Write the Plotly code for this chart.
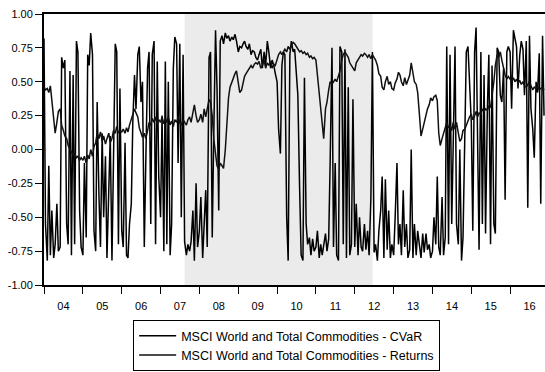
import pandas as pd
import plotly.graph_objects as go

# semi-monthly observations starting January 2004
start_date = "2004-01-01"

cvar = [
    # 2004
    0.82, -0.55, -0.82, -0.12, -0.78, -0.45, -0.8, -0.7, -0.4, -0.75, -0.72, 0.68,
    0.6, 0.66, -0.55, -0.7, 0.58, -0.78, 0.55, -0.7, 0.8, 0.72, -0.45, -0.72,
    # 2005
    -0.78, -0.1, -0.65, 0.7, 0.62, 0.86, 0.7, -0.6, -0.75, 0.35, -0.35, -0.72,
    0.12, -0.5, -0.05, -0.8, -0.3, 0.1, -0.82, -0.2, 0.78, 0.72, -0.7, 0.45,
    # 2006
    -0.6, -0.72, 0.05, -0.78, -0.8, -0.55, -0.4, 0.2, 0.55, 0.3, 0.7, 0.76,
    0.35, 0.5, -0.72, -0.1, 0.6, 0.72, -0.55, 0.7, 0.8, -0.7, 0.65, -0.2,
    # 2007
    -0.5, 0.25, -0.75, 0.65, -0.7, 0.5, -0.78, -0.55, 0.6, 0.83, 0.78, -0.1,
    0.78, -0.5, 0.7, -0.68, -0.78, -0.7, -0.75, -0.68, -0.45, -0.82, -0.25, -0.72,
    # 2008
    -0.6, -0.35, -0.8, -0.55, -0.3, -0.72, 0.68, 0.72, -0.65, 0.1, 0.88, 0.45,
    -0.45, 0.8, 0.84, 0.78, 0.86, 0.82, 0.84, 0.8, 0.83, 0.81, 0.85, 0.8,
    # 2009
    0.72, 0.76, 0.75, 0.78, 0.8, 0.76, 0.74, 0.78, 0.7, 0.73, 0.72, 0.68,
    0.66, 0.7, 0.74, 0.6, 0.72, 0.62, 0.8, 0.72, 0.6, 0.66, 0.62, 0.56,
    # 2010
    0.5, 0.15, -0.03, 0.62, 0.72, 0.7, -0.5, -0.82, 0.7, 0.8, 0.72, 0.74,
    0.55, 0.4, -0.3, -0.78, -0.82, 0.53, -0.55, -0.7, -0.65, -0.78, -0.66, -0.75,
    # 2011
    -0.72, -0.6, -0.8, -0.7, -0.78, -0.72, -0.62, -0.75, -0.66, -0.08, 0.75, -0.72,
    -0.1, -0.78, -0.82, 0.76, 0.72, -0.7, 0.74, -0.8, 0.46, -0.78, -0.7, 0.37,
    # 2012
    -0.72, -0.4, -0.78, -0.5, -0.72, -0.75, -0.55, -0.74, -0.6, -0.78, -0.35, 0.72,
    -0.76, -0.7, -0.82, -0.6, -0.45, -0.2, -0.8, -0.22, -0.74, -0.45, -0.8, -0.7,
    # 2013
    -0.78, -0.5, -0.1, -0.7, -0.55, -0.78, -0.3, -0.72, -0.55, -0.8, -0.74, 0.0,
    -0.8, -0.55, -0.78, -0.6, -0.72, -0.8, -0.62, -0.76, -0.62, -0.74, -0.7, -0.8,
    # 2014
    -0.75, -0.5, -0.7, -0.2, -0.72, -0.78, -0.35, -0.78, -0.65, 0.76, -0.7, 0.7,
    -0.55, 0.2, 0.76, -0.55, -0.7, 0.0, -0.82, -0.65, 0.05, 0.72, 0.76, 0.5,
    # 2015
    0.2, -0.6, 0.72, 0.9, 0.05, -0.74, 0.72, -0.55, 0.55, -0.62, 0.3, 0.7,
    -0.7, 0.62, -0.55, -0.62, 0.75, 0.72, 0.4, 0.35, 0.6, -0.37, 0.72, 0.76,
    # 2016
    0.72, 0.3, 0.88, 0.82, 0.76, 0.45, 0.7, 0.8, 0.74, 0.4, 0.8, -0.43,
    0.84, 0.3, 0.15, -0.06, 0.5, 0.42, 0.71, -0.4, 0.84, 0.25,
]

returns = [
    # 2004
    0.46, 0.44, 0.45, 0.42, 0.47, 0.36, 0.2, 0.12, 0.2, 0.28, 0.3, 0.18,
    0.14, 0.1, 0.08, 0.03, 0.0, -0.02, -0.04, -0.03, -0.06, -0.05, -0.08, -0.06,
    # 2005
    -0.08, -0.05, -0.1, -0.04, -0.07, 0.0, -0.05, 0.02, 0.05, 0.12, 0.08, 0.13,
    0.06, 0.1, 0.04, 0.08, 0.12, 0.05, 0.08, 0.14, 0.12, 0.17, 0.12, 0.14,
    # 2006
    0.13, 0.15, 0.12, 0.16, 0.13, 0.18, 0.22, 0.27, 0.3, 0.27, 0.24, 0.16,
    0.12, 0.09, 0.12, 0.08, 0.14, 0.2, 0.18, 0.23, 0.2, 0.24, 0.19, 0.22,
    # 2007
    0.2, 0.24, 0.19, 0.23, 0.2, 0.24, 0.18, 0.21, 0.17, 0.22, 0.2, 0.24,
    0.2, 0.18, 0.22, 0.2, 0.18, 0.22, 0.24, 0.2, 0.27, 0.33, 0.25, 0.2,
    # 2008
    0.22, 0.26, 0.2, 0.3, 0.24, 0.3, 0.37, 0.35, 0.25, 0.08, -0.05, -0.12,
    -0.15, -0.1, -0.12, -0.14, 0.0, 0.2, 0.38, 0.46, 0.5, 0.52, 0.56, 0.58,
    # 2009
    0.48, 0.42, 0.44, 0.5, 0.54, 0.56, 0.58, 0.6, 0.62, 0.6, 0.63, 0.64,
    0.63, 0.65, 0.6, 0.62, 0.66, 0.6, 0.64, 0.62, 0.65, 0.6, 0.63, 0.62,
    # 2010
    0.66, 0.7, 0.72, 0.7, 0.72, 0.74, 0.72, 0.76, 0.74, 0.77, 0.79, 0.78,
    0.76, 0.74, 0.72, 0.73, 0.71, 0.72, 0.7, 0.71, 0.68, 0.69, 0.67, 0.68,
    # 2011
    0.66, 0.55, 0.4, 0.32, 0.2, 0.08, 0.3, 0.35, 0.44, 0.5, 0.48, 0.5,
    0.52, 0.5, 0.55, 0.58, 0.66, 0.7, 0.72, 0.7, 0.68, 0.64, 0.62, 0.6,
    # 2012
    0.58, 0.64, 0.66, 0.68, 0.7, 0.69, 0.71, 0.7, 0.68, 0.7, 0.67, 0.7,
    0.68, 0.66, 0.62, 0.56, 0.54, 0.46, 0.44, 0.5, 0.54, 0.48, 0.5, 0.45,
    # 2013
    0.44, 0.49, 0.52, 0.57, 0.55, 0.5, 0.47, 0.53, 0.48, 0.52, 0.55, 0.64,
    0.55, 0.5, 0.48, 0.42, 0.25, 0.1, 0.15, 0.2, 0.27, 0.3, 0.33, 0.38,
    # 2014
    0.36, 0.39, 0.4, 0.36, 0.12, 0.03, 0.08, 0.12, 0.15, 0.2, 0.16, 0.18,
    0.14, 0.2, 0.15, 0.2, 0.12, 0.06, 0.08, 0.14, 0.15, 0.18, 0.22, 0.24,
    # 2015
    0.26, 0.22, 0.25, 0.28, 0.24, 0.27, 0.26, 0.3, 0.28, 0.3, 0.29, 0.32,
    0.31, 0.38, 0.5, 0.62, 0.7, 0.68, 0.72, 0.66, 0.6, 0.55, 0.52, 0.54,
    # 2016
    0.52, 0.5, 0.53, 0.5, 0.52, 0.49, 0.51, 0.48, 0.5, 0.47, 0.46, 0.48,
    0.5, 0.47, 0.44, 0.46, 0.45, 0.47, 0.44, 0.45, 0.46, 0.44,
]

y_tick_vals = [1.0, 0.75, 0.5, 0.25, 0.0, -0.25, -0.5, -0.75, -1.0]
y_tick_text = ["1.00", "0.75", "0.50", "0.25", "0.00", "-0.25", "-0.50", "-0.75", "-1.00"]

shade_start = "2007-08-15"
shade_end = "2012-06-17"

dates = pd.date_range(start_date, periods=len(cvar), freq="SMS")

font_family = "Liberation Sans, Arial, sans-serif"

fig = go.Figure()
fig.add_trace(go.Scatter(
    x=dates, y=cvar, mode="lines",
    name="MSCI World and Total Commodities - CVaR",
    line=dict(color="#000000", width=1.5),
))
fig.add_trace(go.Scatter(
    x=dates, y=returns, mode="lines",
    name="MSCI World and Total Commodities - Returns",
    line=dict(color="#111111", width=1.5),
))

fig.add_shape(
    type="rect", xref="x", yref="paper",
    x0=shade_start, x1=shade_end, y0=0, y1=1,
    fillcolor="#ebebeb", line=dict(width=0), layer="below",
)

fig.update_layout(
    width=545, height=372,
    margin=dict(l=44, r=0, t=14, b=87, autoexpand=False),
    paper_bgcolor="white", plot_bgcolor="white",
    font=dict(family=font_family, size=11, color="black"),
    showlegend=True,
    legend=dict(
        x=0.178, y=-0.130, xanchor="left", yanchor="top",
        bordercolor="black", borderwidth=1,
        font=dict(family=font_family, size=12.5, color="black"),
        bgcolor="white", tracegroupgap=0, itemwidth=37,
    ),
    xaxis=dict(
        type="date",
        range=["2004-01-01", "2016-11-24"],
        dtick="M12", tick0="2004-01-01", tickformat="%y",
        ticklabelmode="period",
        ticks="outside", ticklen=7, tickwidth=1, tickcolor="black",
        ticklabelstandoff=3,
        showline=True, linecolor="black", linewidth=2, mirror=True,
        showgrid=False, zeroline=False,
        tickfont=dict(family=font_family, size=11, color="black"),
    ),
    yaxis=dict(
        range=[-1, 1],
        tickvals=y_tick_vals, ticktext=y_tick_text,
        ticks="outside", ticklen=7, tickwidth=1, tickcolor="black",
        showline=True, linecolor="black", linewidth=2, mirror=False,
        showgrid=False, zeroline=False,
        tickfont=dict(family=font_family, size=11, color="black"),
    ),
)

fig.write_html("out.html")
